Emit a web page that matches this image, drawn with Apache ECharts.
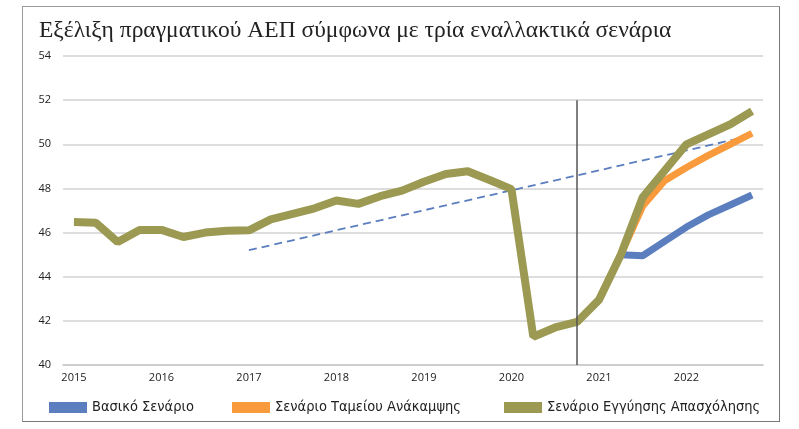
<!DOCTYPE html>
<html>
<head>
<meta charset="utf-8">
<script src="https://cdn.jsdelivr.net/npm/echarts@6/dist/echarts.min.js"></script>
<style>
  html, body { margin: 0; padding: 0; background: #fff; }
  #frame { position: absolute; left: 22px; top: 6px; width: 756px; height: 414px;
           border: 1px solid #999; border-right-color: #777; border-bottom-color: #777; }
  #chart { position: absolute; left: 0; top: 0; width: 799px; height: 429px; }
</style>
</head>
<body>
<div id="frame"></div>
<div id="chart"></div>
<script>
const quarters = [
  '2015', '', '', '', '2016', '', '', '', '2017', '', '', '', '2018', '', '', '',
  '2019', '', '', '', '2020', '', '', '', '2021', '', '', '', '2022', '', '', ''
]

// Σενάριο Εγγύησης Απασχόλησης (includes the actual history)
const guaranteeValues = [
  46.48, 46.45, 45.57, 46.12, 46.12, 45.8, 46.0, 46.08,
  46.1, 46.6, 46.85, 47.1, 47.45, 47.3, 47.65, 47.9,
  48.3, 48.65, 48.78, 48.38, 47.97, 41.28, 41.7, 41.95,
  42.95, 45.0, 47.6, 48.8, 50.0, 50.45, 50.9, 51.5
]

const recoveryValues = [
  null, null, null, null, null, null, null, null,
  null, null, null, null, null, null, null, null,
  null, null, null, null, null, null, null, null,
  42.95, 45.0, 47.2, 48.35, 48.95, 49.5, 50.0, 50.5
]

const baseValues = [
  null, null, null, null, null, null, null, null,
  null, null, null, null, null, null, null, null,
  null, null, null, null, null, null, null, null,
  null, 45.0, 44.95, 45.6, 46.25, 46.8, 47.25, 47.7
]

// dashed trend: only its two ends, joined straight
const trendValues = [
  null, null, null, null, null, null, null, null,
  45.2, null, null, null, null, null, null, null,
  null, null, null, null, null, null, null, null,
  null, null, null, null, null, null, null, 50.4
]

const seriesNames = ['Βασικό Σενάριο', 'Σενάριο Ταμείου Ανάκαμψης', 'Σενάριο Εγγύησης Απασχόλησης']
const legendLefts = [44, 227, 499]

const yTicks = { min: 40, max: 54, interval: 2 }
const markerQuarter = 23

const chart = echarts.init(document.getElementById('chart'))

const legendFont = {
  fontFamily: '"Liberation Sans Narrow", "DejaVu Sans Condensed", "Roboto Condensed", sans-serif',
  fontSize: 14.5,
  color: '#222',
}

chart.setOption({
  animation: false,
  title: {
    text: 'Εξέλιξη πραγματικού ΑΕΠ σύμφωνα με τρία εναλλακτικά σενάρια',
    left: 34,
    top: 14,
    textStyle: { fontFamily: 'Liberation Serif', fontSize: 23.5, fontWeight: 'normal', color: '#222' },
  },
  legend: seriesNames.map((name, i) => ({
    data: [name],
    left: legendLefts[i],
    top: 395,
    icon: 'rect',
    itemWidth: 38,
    itemHeight: 11,
    itemGap: 8,
    selectedMode: false,
    textStyle: legendFont,
  })),
  grid: { left: 63, right: 36, top: 56, bottom: 64 },
  xAxis: {
    type: 'category',
    data: quarters,
    boundaryGap: true,
    axisLine: { lineStyle: { color: '#c8c8c8', width: 1.5 } },
    axisTick: { show: false },
    axisLabel: { interval: 0, color: '#222', fontFamily: 'Open Sans', fontSize: 11, margin: 7 },
  },
  yAxis: {
    type: 'value',
    min: yTicks.min,
    max: yTicks.max,
    interval: yTicks.interval,
    axisLine: { show: false },
    axisTick: { show: false },
    axisLabel: { color: '#222', fontFamily: 'Open Sans', fontSize: 11, margin: 12 },
    splitLine: { lineStyle: { color: '#d2d2d2', width: 1.5 } },
  },
  series: [
    {
      name: 'trend',
      type: 'line',
      data: trendValues,
      connectNulls: true,
      symbol: 'none',
      lineStyle: { color: '#5a7ebe', width: 1.8, type: [8, 5] },
    },
    {
      name: seriesNames[0],
      type: 'line',
      data: baseValues,
      symbol: 'none',
      color: '#5a7ebe',
      lineStyle: { width: 7 },
    },
    {
      name: seriesNames[1],
      type: 'line',
      data: recoveryValues,
      symbol: 'none',
      color: '#f99a3c',
      lineStyle: { width: 7 },
    },
    {
      name: seriesNames[2],
      type: 'line',
      data: guaranteeValues,
      symbol: 'none',
      color: '#9c9a52',
      lineStyle: { width: 8 },
      markLine: {
        silent: true,
        symbol: 'none',
        label: { show: false },
        lineStyle: { color: '#555', width: 1.5, type: 'solid' },
        data: [[{ coord: [markerQuarter, 40] }, { coord: [markerQuarter, 52] }]],
      },
    },
  ],
})
</script>
</body>
</html>
